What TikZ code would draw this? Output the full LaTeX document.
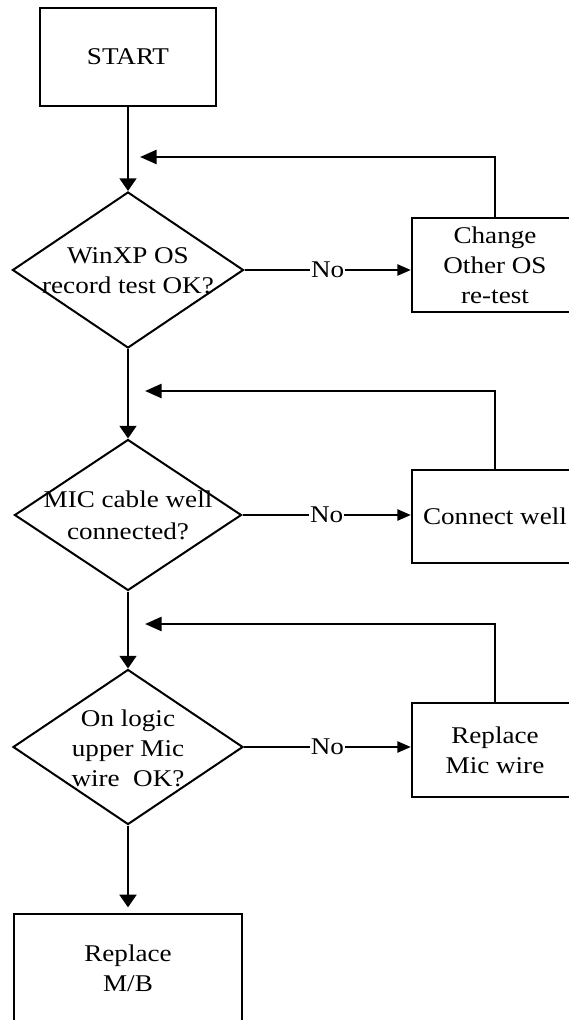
\documentclass[tikz,border=0pt]{standalone}
\usepackage{fontspec}
\setmainfont{Liberation Serif}[FakeStretch=1.13]
\usetikzlibrary{shapes.geometric,arrows.meta}
\begin{document}
\begin{tikzpicture}[x=0.75pt,y=-0.75pt,
  every node/.style={font=\fontsize{18}{22.5}\selectfont},
  box/.style={draw,line width=1.9pt,rectangle,inner sep=0pt,align=center},
  dia/.style={draw,line width=1.5pt,diamond,inner sep=0pt},
  txt/.style={align=center,inner sep=0pt},
  flow/.style={line width=2pt,-{Triangle[length=9.5pt,width=12.5pt]}},
  back/.style={line width=2pt,-{Triangle[length=12.5pt,width=10.5pt]}},
  no/.style={line width=1pt,-{Triangle[length=10pt,width=8.5pt]}},
  lbl/.style={fill=white,inner sep=0.5pt}]
\useasboundingbox (0,0) rectangle (568,1020);
\fill[white] (0,0) rectangle (568,1020);
\node[box,minimum width=132pt,minimum height=73.5pt] (start) at (128,57) {START};
\node[dia,minimum width=173.25pt,minimum height=117pt] (d1) at (128,270) {};
\node[txt] (d1t) at (128,271) {WinXP OS\\record test OK?};
\node[dia,minimum width=170.25pt,minimum height=113.25pt] (d2) at (128,515) {};
\node[txt,font=\fontsize{18}{24}\selectfont] (d2t) at (128,515) {MIC cable well\\connected?};
\node[dia,minimum width=172.5pt,minimum height=116.25pt] (d3) at (128,747) {};
\node[txt] (d3t) at (128,748) {On logic\\upper Mic\\wire\ \ OK?};
\node[box,minimum width=124.5pt,minimum height=70.5pt] (c1) at (495,265) {Change\\Other OS\\re-test};
\node[box,minimum width=124.5pt,minimum height=69.75pt] (c2) at (495,516.5) {Connect well};
\node[box,minimum width=124.5pt,minimum height=70.5pt] (c3) at (495,750) {Replace\\Mic wire};
\node[box,minimum width=171pt,minimum height=81.75pt] (mb) at (128,968.5) {Replace\\M/B};
\coordinate (r1) at (140,157);
\coordinate (r2) at (145,391);
\coordinate (r3) at (145,624);
\draw[flow] (start.south) -- (d1.north);
\draw[flow] (d1.south) -- (d2.north);
\draw[flow] (d2.south) -- (d3.north);
\draw[flow,shorten >=4pt] (d3.south) -- (mb.north);
\draw[no] (d1.east) -- node[lbl] {No} (d1.east -| c1.west);
\draw[no] (d2.east) -- node[lbl] {No} (d2.east -| c2.west);
\draw[no] (d3.east) -- node[lbl] {No} (d3.east -| c3.west);
\draw[back] (c1.north) |- (r1);
\draw[back] (c2.north) |- (r2);
\draw[back] (c3.north) |- (r3);
\end{tikzpicture}
\end{document}
